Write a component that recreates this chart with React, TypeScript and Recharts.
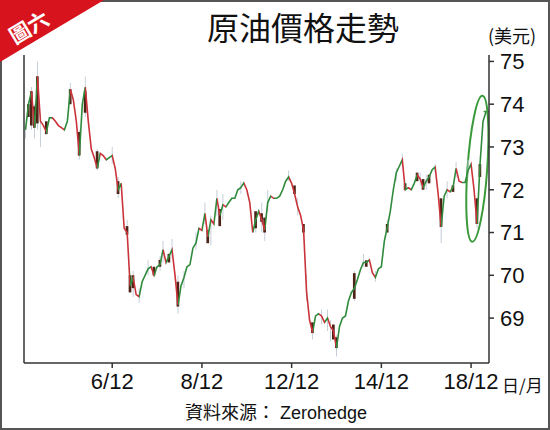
import React from 'react';
import { ComposedChart, Line, Bar, XAxis, YAxis, ReferenceLine, ReferenceArea } from 'recharts';

// hourly closes, index = bar number
const closes = [
  73.4, 74.0, 74.3, 73.45, 74.65, 73.6, 73.5, 73.35, 73.68, 73.68,
  73.6, 73.5, 73.45, 73.4, 73.6, 74.35, 74.1, 73.6, 72.8, 74.0,
  74.4, 73.6, 72.95, 72.75, 72.5, 72.85, 72.8, 72.7, 72.75, 72.8,
  72.5, 72.0, 72.15, 71.1, 71.0, 69.75, 69.95, 69.55, 69.5, 69.85,
  70.0, 70.15, 70.2, 70.0, 70.2, 70.25, 70.6, 70.3, 70.45, 70.6,
  70.0, 69.3, 69.75, 69.95, 70.2, 70.25, 70.64, 70.75, 71.1, 71.05,
  71.45, 70.9, 71.3, 71.2, 71.8, 71.4, 71.65, 71.6, 71.7, 71.8,
  71.8, 72.0, 72.05, 72.16, 72.0, 71.7, 71.0, 71.3, 71.5, 71.3,
  71.06, 71.7, 71.85, 71.8, 71.8, 71.85, 72.0, 72.2, 72.3, 72.15,
  71.9, 71.6, 71.4, 71.05, 69.6, 68.95, 68.66, 69.05, 69.1, 69.05,
  68.9, 69.0, 68.8, 68.7, 68.3, 68.8, 69.0, 69.05, 69.4, 69.6,
  69.7, 69.9, 70.13, 70.3, 70.3, 70.36, 70.06, 69.95, 70.15, 70.2,
  70.8, 71.13, 71.5, 72.0, 72.4, 72.55, 72.7, 72.0, 72.05, 72.0,
  72.15, 72.35, 72.25, 72.05, 72.2, 72.3, 72.47, 72.53, 71.9, 71.13,
  71.85, 72.0, 71.95, 72.07, 72.5, 72.2, 72.17, 72.17, 72.45, 72.6,
  72.0, 71.2, 72.6, 73.6, 73.83,
];

// candle bodies: [bar, low, high]
const bodies: [number, number, number][] = [
  [1, 73.7, 74.0], [2, 73.5, 74.3], [3, 73.45, 73.95], [4, 73.55, 74.65],
  [7, 73.3, 73.6], [15, 74.0, 74.35], [18, 72.8, 73.35], [20, 73.8, 74.3],
  [24, 72.5, 72.9], [31, 71.9, 72.2], [34, 70.95, 71.15], [35, 69.6, 70.0],
  [36, 69.7, 70.0], [43, 70.0, 70.2], [45, 70.2, 70.36], [48, 70.3, 70.5],
  [51, 69.27, 69.85], [61, 70.75, 71.05], [65, 71.15, 71.55], [77, 71.1, 71.5],
  [79, 71.25, 71.45], [80, 71.0, 71.35], [90, 71.9, 72.1], [93, 71.0, 71.2],
  [96, 68.65, 68.9], [103, 68.5, 68.85], [104, 68.3, 68.55], [110, 69.45, 70.05],
  [114, 70.2, 70.35], [121, 71.0, 71.2], [127, 72.0, 72.15], [131, 72.2, 72.4],
  [133, 72.0, 72.25], [135, 72.15, 72.35], [139, 71.13, 71.8], [143, 71.95, 72.1],
  [151, 71.2, 71.8], [152, 72.3, 72.6],
];

// high/low wicks: [bar, low, high]
const wicks: [number, number, number][] = [
  [0, 73.2, 73.5], [2, 73.4, 74.4], [3, 73.2, 74.0], [4, 73.4, 75.0], [5, 73.0, 73.8],
  [15, 74.0, 74.5], [18, 72.7, 73.4], [20, 73.7, 74.65], [24, 72.45, 72.95],
  [29, 72.6, 73.0], [31, 71.8, 72.3], [34, 70.9, 71.3], [36, 69.5, 70.1],
  [38, 69.35, 69.7], [41, 70.0, 70.35], [45, 70.1, 70.45], [46, 70.3, 70.8],
  [49, 70.4, 70.85], [51, 69.1, 70.0], [53, 69.7, 70.1], [57, 70.6, 71.0],
  [60, 71.2, 71.7], [62, 70.7, 71.4], [64, 71.4, 72.0], [66, 71.3, 71.9],
  [72, 71.9, 72.2], [77, 71.0, 71.5], [79, 71.0, 71.7], [80, 70.8, 71.3],
  [81, 71.5, 72.0], [88, 72.2, 72.45], [91, 71.4, 71.8], [94, 69.4, 70.0],
  [96, 68.5, 68.8], [99, 68.85, 69.2], [101, 68.7, 69.2], [102, 68.45, 68.95],
  [104, 68.1, 68.6], [110, 69.4, 70.1], [113, 70.2, 70.5], [117, 69.85, 70.1],
  [121, 71.0, 71.3], [124, 72.2, 72.5], [126, 72.6, 72.85], [132, 72.1, 72.4],
  [134, 72.0, 72.35], [137, 72.4, 72.6], [139, 70.75, 71.8], [141, 71.8, 72.2],
  [144, 72.3, 72.65], [148, 72.3, 72.7], [151, 71.1, 71.7],
];

const dayTicks = [29, 59, 89, 119, 149];
const dayLabels = ['6/12', '8/12', '12/12', '14/12', '18/12'];
const priceTicks = [69, 70, 71, 72, 73, 74, 75];

const UP = '#2f8a3c';
const DOWN = '#c9333a';
const AXIS = '#333';
const NARROW = "'Liberation Sans Narrow', 'Arial Narrow', 'Liberation Sans', Arial, sans-serif";
const CJK = "'Noto Sans CJK TC', 'Noto Sans CJK SC', sans-serif";

type Row = { i: number; close: number; body: number[] | null; wick: number[] | null };

const rows: Row[] = closes.map((close, i) => ({ i, close, body: null, wick: null }));
bodies.forEach(([i, lo, hi]) => { rows[i].body = [lo, hi]; });
wicks.forEach(([i, lo, hi]) => { rows[i].wick = [lo, hi]; });

// hard colour stops so each leg of the line is green when rising, red when falling
const last = closes.length - 1;
const legStops: { offset: number; color: string }[] = [];
for (let i = 0; i < last; i++) {
  const color = closes[i + 1] >= closes[i] ? UP : DOWN;
  legStops.push({ offset: i / last, color }, { offset: (i + 1) / last, color });
}

function Ring(props: any) {
  const { x, y, width, height } = props;
  const cx = x + width / 2;
  const cy = y + height / 2;
  return (
    <ellipse
      cx={cx}
      cy={cy}
      rx={width / 2}
      ry={height / 2}
      transform={`rotate(4 ${cx} ${cy})`}
      fill="none"
      stroke="#3a9a3a"
      strokeWidth={2}
    />
  );
}

export default function App() {
  return (
    <div style={{ position: 'absolute', left: 0, top: 0, width: 550, height: 430, background: '#fff', overflow: 'hidden' }}>
      <div style={{ position: 'absolute', left: 0, top: 0 }}>
        <ComposedChart width={550} height={430} data={rows} margin={{ top: 55, right: 11, bottom: 37, left: 24 }}>
          <defs>
            <linearGradient id="legColor" x1="0" y1="0" x2="1" y2="0">
              {legStops.map((s, k) => (
                <stop key={k} offset={s.offset} stopColor={s.color} />
              ))}
            </linearGradient>
          </defs>
          <XAxis
            xAxisId="t"
            dataKey="i"
            type="number"
            domain={[-0.5, 155]}
            allowDataOverflow
            ticks={dayTicks}
            tickFormatter={(v: number) => dayLabels[dayTicks.indexOf(v)] ?? ''}
            height={30}
            tickSize={5}
            tickMargin={5}
            axisLine={{ stroke: AXIS, strokeWidth: 1.5 }}
            tickLine={{ stroke: AXIS, strokeWidth: 1.5 }}
            tick={{ fontFamily: NARROW, fontSize: 22, fill: '#111' }}
          />
          <XAxis xAxisId="w" dataKey="i" type="number" domain={[-0.5, 155]} allowDataOverflow hide />
          <YAxis
            yAxisId="p"
            orientation="right"
            type="number"
            domain={[67.95, 75.15]}
            allowDataOverflow
            ticks={priceTicks}
            width={50}
            tickSize={5}
            tickMargin={6}
            axisLine={{ stroke: AXIS, strokeWidth: 1.5 }}
            tickLine={{ stroke: AXIS, strokeWidth: 1.5 }}
            tick={{ fontFamily: NARROW, fontSize: 22, fill: '#111' }}
          />
          <ReferenceLine xAxisId="t" yAxisId="p" x={-0.5} stroke={AXIS} strokeWidth={1.5} ifOverflow="visible" />
          <Bar xAxisId="w" yAxisId="p" dataKey="wick" barSize={1} fill="#c5cfd9" isAnimationActive={false} />
          <Line
            xAxisId="t"
            yAxisId="p"
            type="linear"
            dataKey="close"
            stroke="url(#legColor)"
            strokeWidth={1.6}
            dot={false}
            activeDot={false}
            isAnimationActive={false}
          />
          <Bar xAxisId="t" yAxisId="p" dataKey="body" barSize={3} fill="#4e2317" isAnimationActive={false} />
          <ReferenceLine
            xAxisId="t"
            yAxisId="p"
            segment={[{ x: 153.2, y: 73.83 }, { x: 155, y: 73.83 }]}
            stroke="#3a9a3a"
            strokeWidth={1.5}
            ifOverflow="visible"
          />
          <ReferenceArea
            xAxisId="t"
            yAxisId="p"
            x1={147.8}
            x2={154.4}
            y1={70.78}
            y2={74.2}
            ifOverflow="visible"
            shape={(p: any) => <Ring {...p} />}
          />
        </ComposedChart>
      </div>

      <div style={{ position: 'absolute', left: 0, top: 0, width: 550, height: 430, boxSizing: 'border-box', border: '2px solid #555', pointerEvents: 'none' }} />

      <svg width={110} height={70} style={{ position: 'absolute', left: 0, top: 0 }}>
        <polygon points="0,0 104,0 0,62" fill="#d7141e" />
        <text
          x={30}
          y={29}
          transform="rotate(-31 30 29)"
          textAnchor="middle"
          dominantBaseline="middle"
          fill="#fff"
          fontFamily={CJK}
          fontWeight={700}
          fontSize={21}
        >
          圖六
        </text>
      </svg>

      <div style={{ position: 'absolute', left: 0, top: 6, width: 606, textAlign: 'center', fontFamily: CJK, fontSize: 32, lineHeight: '40px', color: '#111' }}>
        原油價格走勢
      </div>
      <div style={{ position: 'absolute', left: 488, top: 22, fontFamily: CJK, fontSize: 18, lineHeight: '26px', color: '#111' }}>
        (美元)
      </div>
      <div style={{ position: 'absolute', left: 502, top: 372, fontFamily: CJK, fontSize: 17, lineHeight: '26px', color: '#111' }}>
        日/月
      </div>
      <div style={{ position: 'absolute', left: 0, top: 398, width: 552, textAlign: 'center', fontSize: 18, lineHeight: '26px', color: '#111' }}>
        <span style={{ fontFamily: CJK }}>資料來源：</span>
        <span style={{ fontFamily: "'Liberation Sans', Arial, sans-serif" }}> Zerohedge</span>
      </div>
    </div>
  );
}
